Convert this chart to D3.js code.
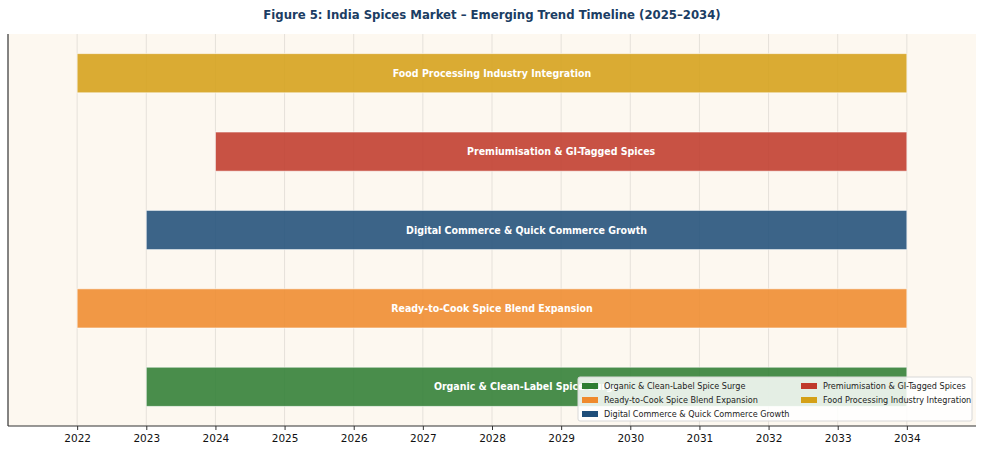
<!DOCTYPE html>
<html>
<head>
<meta charset="utf-8">
<script src="https://cdn.jsdelivr.net/npm/d3@7"></script>
<style>
  body { margin: 0; background: #ffffff; }
  text { font-family: "DejaVu Sans", sans-serif; }
</style>
</head>
<body>
<script>
const width = 984;
const height = 453;
const margin = {top: 34, right: 8, bottom: 27, left: 8};

// trends listed bottom to top
const trends = [
  "Organic & Clean-Label Spice Surge",
  "Ready-to-Cook Spice Blend Expansion",
  "Digital Commerce & Quick Commerce Growth",
  "Premiumisation & GI-Tagged Spices",
  "Food Processing Industry Integration"
];
const startYears = [2023, 2022, 2023, 2024, 2022];
const endYears = [2034, 2034, 2034, 2034, 2034];
const colors = ["#2e7d32", "#ef8a2c", "#1f4e79", "#c0392b", "#d4a017"];
const tickYears = [2022, 2023, 2024, 2025, 2026, 2027, 2028, 2029, 2030, 2031, 2032, 2033, 2034];

const rows = trends.map(function(t, i) {
  return {name: t, start: startYears[i], end: endYears[i], color: colors[i]};
});

const xScale = d3.scaleLinear()
                  .domain([2021, 2035])
                  .range([margin.left, width - margin.right]);

const yScale = d3.scaleBand()
                  .domain(trends.slice().reverse())
                  .range([margin.top, height - margin.bottom])
                  .paddingInner(0.5)
                  .paddingOuter(0.25);

const svg = d3.select("body")
          .append("svg")
            .attr("width", width)
            .attr("height", height);

svg.append("rect")
   .attr("x", margin.left)
   .attr("y", margin.top)
   .attr("width", width - margin.left - margin.right)
   .attr("height", height - margin.top - margin.bottom)
   .attr("fill", "#fdf8f0");

// vertical grid
svg.append("g")
   .selectAll("line")
   .data(tickYears)
   .enter()
   .append("line")
     .attr("x1", function(d) { return xScale(d); })
     .attr("x2", function(d) { return xScale(d); })
     .attr("y1", margin.top)
     .attr("y2", height - margin.bottom)
     .attr("stroke", "#e6e1da")
     .attr("stroke-width", 1);

svg.append("g")
   .selectAll("rect")
   .data(rows)
   .enter()
   .append("rect")
     .attr("x", function(d) { return xScale(d.start); })
     .attr("y", function(d) { return yScale(d.name); })
     .attr("width", function(d) { return xScale(d.end) - xScale(d.start); })
     .attr("height", yScale.bandwidth())
     .attr("fill", function(d) { return d.color; })
     .attr("fill-opacity", 0.87)
     .attr("stroke", "#ffffff")
     .attr("stroke-opacity", 0.6)
     .attr("stroke-width", 1);

svg.append("g")
   .selectAll("text")
   .data(rows)
   .enter()
   .append("text")
     .attr("x", function(d) { return xScale((d.start + d.end) / 2); })
     .attr("y", function(d) { return yScale(d.name) + yScale.bandwidth() / 2; })
     .attr("dy", "0.35em")
     .attr("text-anchor", "middle")
     .attr("fill", "#ffffff")
     .attr("font-weight", "bold")
     .attr("font-size", "10.5px")
     .style("font-stretch", "condensed")
     .style("font-family", "'DejaVu Sans Condensed', 'DejaVu Sans', sans-serif")
     .text(function(d) { return d.name; });

// axes
const xAxis = d3.axisBottom(xScale)
                .tickValues(tickYears)
                .tickFormat(d3.format("d"))
                .tickSize(4)
                .tickPadding(5);

const gx = svg.append("g")
   .attr("transform", "translate(0," + (height - margin.bottom) + ")")
   .call(xAxis);
gx.select(".domain").remove();
gx.selectAll("text").attr("font-size", "10.5px").attr("fill", "#111");
gx.selectAll(".tick line").attr("stroke", "#333");

svg.append("line")
   .attr("x1", margin.left).attr("x2", width - margin.right)
   .attr("y1", height - margin.bottom).attr("y2", height - margin.bottom)
   .attr("stroke", "#333").attr("stroke-width", 1.2);
svg.append("line")
   .attr("x1", margin.left).attr("x2", margin.left)
   .attr("y1", margin.top).attr("y2", height - margin.bottom)
   .attr("stroke", "#333").attr("stroke-width", 1.2);

// title
svg.append("text")
   .attr("x", width / 2)
   .attr("y", 19)
   .attr("text-anchor", "middle")
   .attr("fill", "#1b3d63")
   .attr("font-weight", "bold")
   .attr("font-size", "13px")
   .style("font-family", "'DejaVu Sans Condensed', 'DejaVu Sans', sans-serif")
   .text("Figure 5: India Spices Market \u2013 Emerging Trend Timeline (2025\u20132034)");

// legend
const legend = svg.append("g").attr("transform", "translate(578,377)");
legend.append("rect")
   .attr("width", 394)
   .attr("height", 44)
   .attr("rx", 2)
   .attr("fill", "#ffffff")
   .attr("fill-opacity", 0.85)
   .attr("stroke", "#d8d8d8");

const legendItems = legend.selectAll("g.item")
   .data(rows)
   .enter()
   .append("g")
     .attr("class", "item")
     .attr("transform", function(d, i) {
        const col = i < 3 ? 0 : 1;
        const row = i < 3 ? i : i - 3;
        return "translate(" + (4 + col * 219) + "," + (5 + row * 14) + ")";
     });

legendItems.append("rect")
   .attr("width", 16)
   .attr("height", 6)
   .attr("y", 1)
   .attr("fill", function(d) { return d.color; });

legendItems.append("text")
   .attr("x", 22)
   .attr("y", 4)
   .attr("dy", "0.35em")
   .attr("font-size", "9px")
   .attr("fill", "#222")
   .style("font-stretch", "condensed")
   .style("font-family", "'DejaVu Sans Condensed', 'DejaVu Sans', sans-serif")
   .text(function(d) { return d.name; });
</script>
</body>
</html>
